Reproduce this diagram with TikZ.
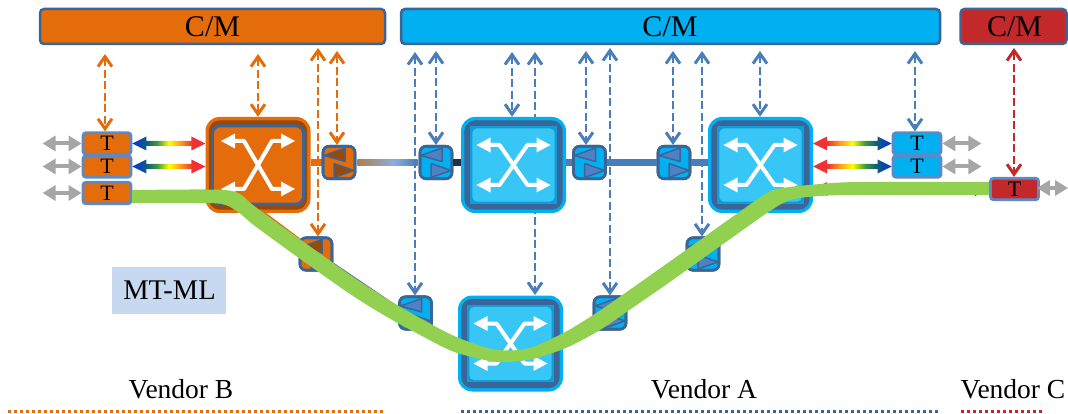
\documentclass[tikz,border=0pt]{standalone}
\usepackage{fontspec}
\setmainfont{Liberation Serif}
\usetikzlibrary{arrows.meta,calc,positioning}
\definecolor{cOr}{HTML}{E46C0A}
\definecolor{cBr}{HTML}{984807}
\definecolor{cBl}{HTML}{00B0F0}
\definecolor{cLt}{HTML}{37C6F5}
\definecolor{cRd}{HTML}{C3282B}
\definecolor{cEd}{HTML}{3B6497}
\definecolor{cMd}{HTML}{4A7EBB}
\definecolor{cTb}{HTML}{5B8AC6}
\definecolor{cGr}{HTML}{92D050}
\definecolor{cGy}{HTML}{A6A6A6}
\definecolor{cMl}{HTML}{C6D9F1}
\definecolor{cTr}{HTML}{4F81C7}
\definecolor{rbA}{HTML}{0A2FE6}
\definecolor{rbB}{HTML}{0F5F78}
\definecolor{rbC}{HTML}{3C9A3C}
\definecolor{rbD}{HTML}{FFFF00}
\definecolor{rbE}{HTML}{FF9A1E}
\definecolor{rbF}{HTML}{F03232}
\pgfdeclarehorizontalshading{rainbowh}{100bp}{color(0bp)=(rbA);color(25bp)=(rbA);color(35bp)=(rbB);color(42bp)=(rbC);color(50bp)=(rbD);color(58bp)=(rbE);color(66bp)=(rbF);color(100bp)=(rbF)}
\pgfdeclarehorizontalshading{linkh}{100bp}{color(0bp)=(brown!70!gray);color(25bp)=(brown!70!gray);color(55bp)=(cTr!65!white);color(75bp)=(cMd);color(100bp)=(cMd)}
\tikzset{
  bar/.style={draw=cEd,line width=2.5pt,rounded corners=4pt,inner sep=0pt,minimum height=35pt},
  barlabel/.style={font=\fontsize{30}{30}\selectfont,inner sep=0pt},
  tbox/.style={draw=cTb,line width=2.8pt,rounded corners=3pt,inner sep=0pt,minimum width=48pt,minimum height=21.5pt,font=\fontsize{22}{22}\selectfont},
  wssbox/.style={draw=cEd,line width=2.6pt,rounded corners=6pt,inner sep=0pt,minimum width=32pt,minimum height=32.5pt},
  swbox/.style={inner sep=0pt,minimum width=105pt,minimum height=96pt,rounded corners=14pt},
  cmarrow/.style={line width=2.8pt,dash pattern=on 8pt off 3.5pt,{Straight Barb[length=10pt,width=14pt,line width=3pt]}-{Straight Barb[length=10pt,width=14pt,line width=3pt]}},
  greyarrow/.style={cGy,line width=4pt,{Triangle[length=13pt,width=15pt]}-{Triangle[length=13pt,width=15pt]}},
  vendor/.style={font=\fontsize{27.5}{27.5}\selectfont,inner sep=0pt},
  vendorline/.style={line width=3pt,dash pattern=on 3pt off 3pt},
  fibre/.style={line width=6.5pt},
  whitex/.style={white,line width=4pt,line join=round}
}
\newcommand{\swicon}[2]{% centre name, half height
  \begin{scope}[shift={(#1)}]
    \draw[whitex] (-25,-#2)--(-14,-#2)--(14,#2)--(25,#2);
    \draw[whitex] (-25,#2)--(-14,#2)--(14,-#2)--(25,-#2);
    \foreach \sx/\sy in {-1/-1,1/-1,-1/1,1/1}{
      \fill[white] (\sx*37,\sy*#2) -- (\sx*23,\sy*#2-7.5) -- (\sx*23,\sy*#2+7.5) -- cycle;}
  \end{scope}}
\newcommand{\blueswitch}[3]{% name, x, y
  \node[swbox,fill=cBl] (#1) at (#2,#3) {};
  \fill[cEd,rounded corners=11pt] ($(#1.north west)+(3.5,3.5)$) rectangle ($(#1.south east)+(-3.5,-3.5)$);
  \fill[cBl!75!cEd] ($(#1.north west)+(9,9.5)$) rectangle ($(#1.south east)+(-9,-9.5)$);
  \fill[cLt,rounded corners=5pt] ($(#1.north west)+(11.5,11.5)$) rectangle ($(#1.south east)+(-11.5,-11.5)$);
  \swicon{#1}{20}}
\newcommand{\wss}[5]{% name, x, y, fill, triangle colour
  \node[wssbox,fill=#4] (#1) at (#2,#3) {};
  \begin{scope}[shift={(#1)},draw=cEd,line width=1.5pt,fill=#5,line join=round]
    \filldraw (-15,-7) -- (6,-14.5) -- (6,-1) -- cycle;
    \filldraw (15,8) -- (-5,1) -- (-5,15) -- cycle;
  \end{scope}
  \node[wssbox,fill=none] at (#1) {};}
\newcommand{\rainbow}[3]{% start, end, angle
  \shade[shading=rainbowh,shading angle=#3]
    (#1) -- ($(#1)+(14,-7)$) -- ($(#1)+(14,-2.5)$) -- ($(#2)+(-14,-2.5)$) -- ($(#2)+(-14,-7)$) -- (#2)
    -- ($(#2)+(-14,7)$) -- ($(#2)+(-14,2.5)$) -- ($(#1)+(14,2.5)$) -- ($(#1)+(14,7)$) -- cycle;}
\begin{document}
\begin{tikzpicture}[x=1pt,y=-1pt]
\useasboundingbox (0,0) rectangle (1068,414);
% management bars
\node[bar,fill=cOr,minimum width=345pt] (cmB) at (212.5,26.5) {};
\node[bar,fill=cBl,minimum width=539pt] (cmA) at (670.5,26.5) {};
\node[bar,fill=cRd,minimum width=106pt] (cmC) at (1013.5,26.5) {};
\node[barlabel] (lB) at (212.5,27) {C/M};
\node[barlabel] (lA) at (670,27) {C/M};
\node[barlabel] (lC) at (1014.5,27) {C/M};
% coordinates for top ends
\foreach \n/\x/\y in {a/105/54,b/258/54,c/318/48,d/337/51,e/415/52,f/436/51,g/512/52,h/535/52,i/586/51,j/610/48,k/673/51,l/702/51,m/760/51,n/915/51,o/1014/48}
  \coordinate (top\n) at (\x,\y);
% transponders
\node[tbox,fill=cOr] (tb1) at (107,143.5) {\raisebox{-1pt}{T}};
\node[tbox,fill=cOr] (tb2) at (107,166.5) {\raisebox{-1pt}{T}};
\node[tbox,fill=cOr] (tb3) at (107,193) {\raisebox{-1pt}{T}};
\node[tbox,fill=cBl] (ta1) at (917,143.5) {\raisebox{-1pt}{T}};
\node[tbox,fill=cBl] (ta2) at (917,166.5) {\raisebox{-1pt}{T}};
\node[tbox,fill=cRd] (tc1) at (1014.5,189) {\raisebox{-1pt}{T}};
% switches
\node[swbox,fill=cOr] (sb) at (258,165) {};
\fill[cBr,rounded corners=11pt] ($(sb.north west)+(3.5,3.5)$) rectangle ($(sb.south east)+(-3.5,-3.5)$);
\filldraw[draw=cEd,fill=cOr,line width=3pt,rounded corners=8pt] ($(sb.north west)+(7,9)$) rectangle ($(sb.south east)+(-7,-9)$);
\swicon{sb}{24}
% dashed line that passes behind the switch
\coordinate (h1) at (535,295);
\draw[cmarrow,cMd] (toph) -- (h1);
\blueswitch{sa1}{513.5}{165}
\blueswitch{sa2}{760.5}{165}
\blueswitch{sa3}{510.5}{343.5}
% fibre links
\draw[fibre,cOr] (sb.east |- 0,162.5) -- ++(14,0);
\draw[line width=3pt,cOr!80!brown] ($(sb.south)+(2,-3)$) -- ($(sb.south)+(50,33)$);
\draw[line width=3pt,cTr!50!gray] (333,264) -- (398,308);
% WSS
\wss{wb1}{339}{162.5}{cOr}{cBr}
\wss{wb2}{316}{254}{cOr}{cBr}
\wss{wa1}{436}{162.5}{cBl}{cTr}
\wss{wa2}{589.5}{162.5}{cBl}{cTr}
\wss{wa3}{674}{162.5}{cBl}{cTr}
\wss{wa4}{703}{254}{cBl}{cTr}
\wss{wa5}{415.5}{313}{cBl}{cTr}
\wss{wa6}{610}{313}{cBl}{cTr}
\shade[shading=linkh] ($(wb1.east)+(1,-3)$) rectangle ($(wa1.west)+(-1,3)$);
\draw[fibre,cEd!50!black] (wa1.east) -- (wa1.east -| sa1.west);
\draw[fibre,cMd] (sa1.east |- wa2) -- (wa2.west);
\draw[fibre,cMd] (wa2.east) -- (wa3.west);
\draw[fibre,cMd] (wa3.east) -- (wa3.east -| sa2.west);
% rainbow arrows
\rainbow{tb1.east}{tb1.east -| sb.west}{0}
\rainbow{tb2.east}{tb2.east -| sb.west}{0}
\rainbow{sa2.east |- ta1.west}{ta1.west}{180}
\rainbow{sa2.east |- ta2.west}{ta2.west}{180}
\rainbow{sa2.east |- tc1.west}{tc1.west}{180}
% grey arrows
\foreach \t in {tb1,tb2,tb3}{
  \coordinate (g\t) at ($(\t.west)+(-39,0)$);
  \draw[greyarrow] (g\t) -- (\t.west);}
\foreach \t in {ta1,ta2}{
  \coordinate (g\t) at ($(\t.east)+(39,0)$);
  \draw[greyarrow] (\t.east) -- (g\t);}
\coordinate (gtc) at (1068,188);
\draw[greyarrow] ($(tc1.east)+(-3,-1)$) -- (gtc);
% C/M arrows
\draw[cmarrow,cOr] (topa) -- (tb1.north -| topa);
\draw[cmarrow,cOr] (topb) -- (sb.north);
\draw[cmarrow,cOr] (topc) -- (wb2.north -| topc);
\draw[cmarrow,cOr] (topd) -- (wb1.north -| topd);
\draw[cmarrow,cMd] (tope) -- (wa5.north -| tope);
\draw[cmarrow,cMd] (topf) -- (wa1.north -| topf);
\draw[cmarrow,cMd] (topg) -- (sa1.north -| topg);
\draw[cmarrow,cMd] (topi) -- (wa2.north -| topi);
\draw[cmarrow,cMd] (topj) -- (wa6.north -| topj);
\draw[cmarrow,cMd] (topk) -- (wa3.north -| topk);
\draw[cmarrow,cMd] (topl) -- (wa4.north -| topl);
\draw[cmarrow,cMd] (topm) -- (sa2.north -| topm);
\draw[cmarrow,cMd] (topn) -- (ta1.north -| topn);
\draw[cmarrow,cRd] (topo) -- (tc1.north -| topo);
% light path, drawn as a filled band
\fill[cGr] plot[smooth,tension=0.5] coordinates {(132,190) (190,189.5) (225,190) (240,194) (253,205) (287,230) (320,253.5) (353,277) (387,299) (420,318) (453,335.5) (487,348) (510,350.5) (533,347) (567,331) (600,310.5) (633,287.5) (667,263.5) (700,240) (733,216.5) (767,193) (783,188) (820,184) (860,182) (989,182)}
  -- plot[smooth,tension=0.5] coordinates {(989,195) (860,195) (820,196) (790,200) (767,213) (733,237) (700,260.5) (667,284) (633,307.5) (600,330) (567,347.5) (533,359) (505,362) (487,360.5) (453,351.5) (420,335) (387,317) (353,296) (320,273) (287,249.5) (253,224.5) (238,212) (222,204) (190,203) (132,203)} -- cycle;
% labels
\node[fill=cMl,minimum width=114pt,minimum height=47pt,inner sep=0pt,font=\fontsize{28.5}{28.5}\selectfont] (ml) at (169,290.5) {\hspace{1pt}MT-ML};
\node[vendor] (vb) at (181,389) {Vendor B};
\node[vendor] (va) at (704,389) {Vendor A};
\node[vendor] (vc) at (1013,389) {Vendor C};
\coordinate (vb1) at (8,411); \coordinate (vb2) at (384,411);
\coordinate (va1) at (461,411); \coordinate (va2) at (940,411);
\coordinate (vc1) at (961,411); \coordinate (vc2) at (1042,411);
\draw[vendorline,cOr] (vb1) -- (vb2);
\draw[vendorline,cEd] (va1) -- (va2);
\draw[vendorline,cRd] (vc1) -- (vc2);
\end{tikzpicture}
\end{document}
